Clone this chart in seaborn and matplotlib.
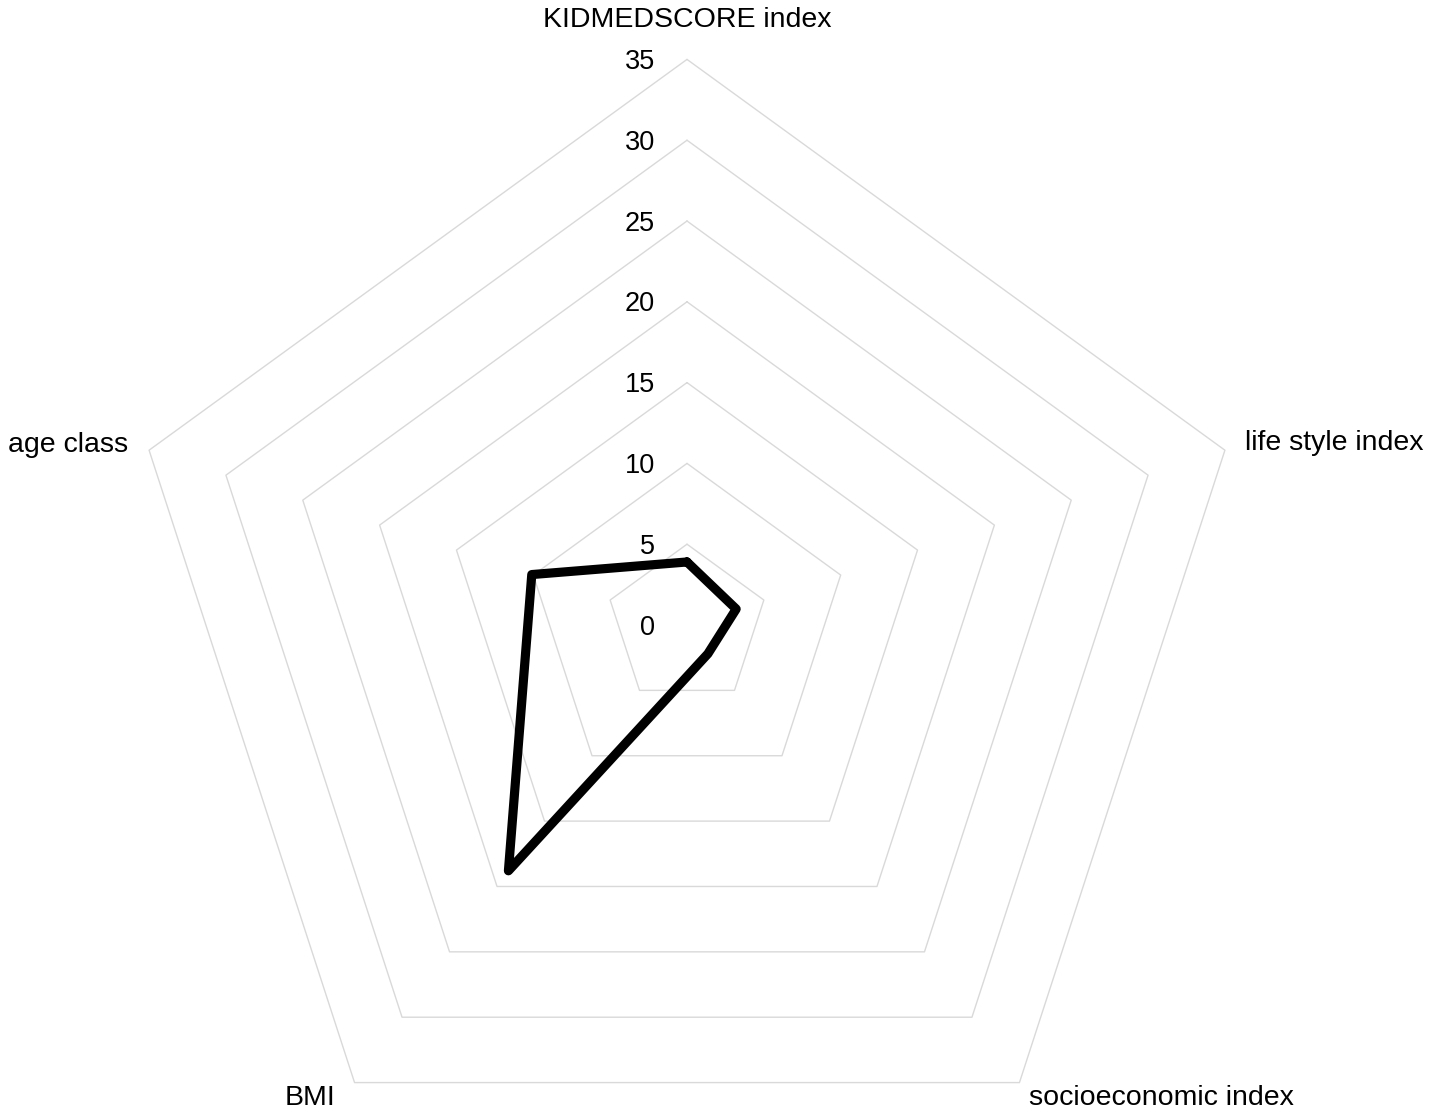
import numpy as np
import pandas as pd
import matplotlib.pyplot as plt
import seaborn as sns

# Values
categories = ["KIDMEDSCORE index", "life style index", "socioeconomic index", "BMI", "age class"]
values = [3.9, 3.2, 2.2, 18.8, 10.1]
ring_levels = [0, 5, 10, 15, 20, 25, 30, 35]

sns.set_theme(style="white")
plt.rcParams['font.family'] = ['Liberation Sans', 'DejaVu Sans']

fig = plt.figure(figsize=(14.3, 11.12), dpi=100)
# center at (687, 625) px, outer radius 565.6 px
R = 565.6
ax = fig.add_axes([(687 - R) / 1430, (1112 - 625 - R) / 1112, 2 * R / 1430, 2 * R / 1112],
                  projection='polar')
ax.set_theta_offset(np.pi / 2)
ax.set_theta_direction(-1)
ax.set_ylim(0, 35)
ax.grid(False)
ax.spines['polar'].set_visible(False)
ax.set_xticks([])
ax.set_yticks([])
ax.patch.set_alpha(0)

n = len(categories)
angles = np.arange(n) * 2 * np.pi / n

# pentagon grid rings
for lvl in ring_levels[1:]:
    th = np.append(angles, angles[0])
    ax.plot(th, [lvl] * (n + 1), color='#d9d9d9', lw=1.0, zorder=1, clip_on=False)

# radial tick labels along the first axis
for lvl in ring_levels:
    ax.annotate(str(lvl), xy=(0, lvl), xytext=(-32 * 0.72, -2.5 * 0.72), textcoords='offset points',
                ha='right', va='center', fontsize=19.5, color='black', annotation_clip=False)

# data polygon (closed)
df = pd.DataFrame({'theta': np.append(angles, 2 * np.pi),
                   'r': values + [values[0]]})
sns.lineplot(data=df, x='theta', y='r', sort=False, estimator=None, ax=ax, color='black',
             lw=6.6, solid_joinstyle='round', solid_capstyle='round', zorder=3)
ax.set_xlabel('')
ax.set_ylabel('')
ax.set_xlim(0, 2 * np.pi)

# category labels (offsets in px)
offsets = [(0, 39, 'center'), (20, 7, 'left'), (10, -15, 'left'), (-19, -15, 'right'), (-21, 5, 'right')]
for ang, cat, (dx, dy, ha) in zip(angles, categories, offsets):
    ax.annotate(cat, xy=(ang, 35), xytext=(dx * 0.72, dy * 0.72), textcoords='offset points',
                ha=ha, va='center', fontsize=20.5, color='black', annotation_clip=False)

fig.savefig('out.png', dpi=100)
